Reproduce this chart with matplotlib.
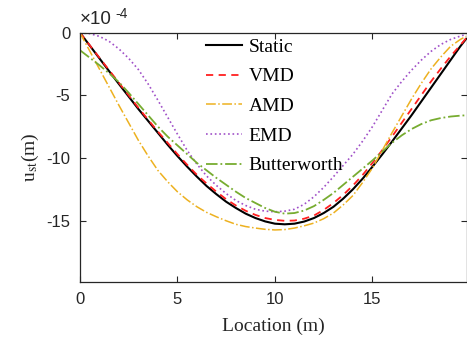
import matplotlib
matplotlib.use("Agg")
import matplotlib.pyplot as plt

plt.rcParams['axes.unicode_minus'] = False
plt.rcParams['mathtext.fontset'] = 'stix'

# Location (m)
location = [0, 0.5, 1, 1.5, 2, 2.5, 3, 3.5, 4, 4.5, 5, 5.5, 6, 6.5, 7, 7.5, 8, 8.5, 9, 9.5,
            10, 10.5, 11, 11.5, 12, 12.5, 13, 13.5, 14, 14.5, 15, 15.5, 16, 16.5, 17, 17.5,
            18, 18.5, 19, 19.5, 19.8]

# Displacement values in units of 1e-4 m
static = [0, -1.02, -2.05, -3.08, -4.1, -5.1, -6.1, -7.05, -8.0, -8.95, -9.85, -10.7, -11.5,
          -12.25, -12.9, -13.5, -14.0, -14.45, -14.8, -15.07, -15.25, -15.3, -15.25, -15.08,
          -14.8, -14.4, -13.9, -13.25, -12.5, -11.65, -10.7, -9.72, -8.7, -7.65, -6.6, -5.5,
          -4.4, -3.3, -2.2, -1.1, -0.5]
vmd = [0, -1.0, -2.0, -3.0, -4.0, -5.0, -6.0, -6.95, -7.9, -8.8, -9.7, -10.55, -11.35,
       -12.05, -12.7, -13.3, -13.8, -14.22, -14.55, -14.8, -14.95, -15.02, -15.0, -14.85,
       -14.6, -14.15, -13.6, -12.95, -12.2, -11.35, -10.4, -9.38, -8.3, -7.2, -6.1, -5.0,
       -3.9, -2.88, -1.9, -1.0, -0.45]
amd = [0, -1.45, -2.9, -4.35, -5.8, -7.2, -8.6, -9.85, -11.0, -11.9, -12.7, -13.35, -13.9,
       -14.35, -14.7, -15.02, -15.3, -15.48, -15.6, -15.7, -15.75, -15.72, -15.6, -15.42,
       -15.2, -14.85, -14.4, -13.75, -13.0, -11.95, -10.8, -9.4, -8.0, -6.65, -5.3, -4.05,
       -2.9, -1.95, -1.1, -0.55, -0.3]
emd = [0, -0.08, -0.3, -0.7, -1.3, -2.05, -2.95, -4.1, -5.4, -6.75, -8.1, -9.4, -10.5,
       -11.45, -12.2, -12.85, -13.4, -13.8, -14.1, -14.25, -14.3, -14.25, -14.1, -13.7,
       -13.1, -12.35, -11.5, -10.6, -9.7, -8.65, -7.5, -6.2, -4.9, -3.9, -3.0, -2.2,
       -1.5, -0.95, -0.55, -0.28, -0.15]
butterworth = [-1.4, -2.0, -2.6, -3.25, -3.95, -4.8, -5.7, -6.6, -7.5, -8.3, -9.0, -9.7, -10.4,
               -11.0, -11.6, -12.15, -12.7, -13.2, -13.6, -14.0, -14.3, -14.45, -14.4, -14.2,
               -13.85, -13.35, -12.8, -12.15, -11.5, -10.85, -10.2, -9.5, -8.8, -8.2, -7.7, -7.3,
               -7.0, -6.82, -6.7, -6.63, -6.6]

series = [
    ("Static", static, dict(color='black', linestyle='-', linewidth=1.5)),
    ("VMD", vmd, dict(color='#ff2020', linestyle=(0, (4, 3)), linewidth=1.3)),
    ("AMD", amd, dict(color='#edb120', linestyle='-.', linewidth=1.1)),
    ("EMD", emd, dict(color='#a050c8', linestyle=':', linewidth=1.2)),
    ("Butterworth", butterworth, dict(color='#77ac30', linestyle='-.', linewidth=1.3)),
]

fig = plt.figure(figsize=(4.67, 3.43), dpi=100)
ax = fig.add_axes([0.171, 0.178, 0.828, 0.727])

for name, vals, style in series:
    ax.plot(location, vals, label=name, **style)

ax.set_xlim(0, 19.82)
ax.set_ylim(-19.9, 0)
ax.set_xticks([0, 5, 10, 15])
ax.set_yticks([0, -5, -10, -15])

ax.tick_params(direction='in', top=True, right=True, length=4, width=0.8,
               labelsize=12, colors='#262626', pad=7)
for lbl in ax.get_xticklabels() + ax.get_yticklabels():
    lbl.set_family('Liberation Sans')
for s in ax.spines.values():
    s.set_color('#262626')
    s.set_linewidth(0.9)

# exponent label (values are in units of 1e-4 m)
ax.annotate('\u00d710', xy=(0, 1), xycoords='axes fraction', xytext=(0, 3),
            textcoords='offset points', ha='left', va='bottom',
            family='Liberation Sans', fontsize=13.5, color='#262626')
ax.annotate('-4', xy=(0, 1), xycoords='axes fraction', xytext=(25.5, 8.5),
            textcoords='offset points', ha='left', va='bottom',
            family='Liberation Sans', fontsize=10, color='#262626')

ax.set_xlabel('Location (m)', family='Liberation Serif', fontsize=14, color='#262626',
              labelpad=8)
ax.set_ylabel(r'u$_{\mathrm{st}}$(m)', family='Liberation Serif', fontsize=14, color='#262626')

leg = ax.legend(loc='upper left', bbox_to_anchor=(0.28, 1.048), frameon=False,
                prop={'family': 'Liberation Serif', 'size': 14},
                handlelength=1.85, handletextpad=0.35, labelspacing=0.62)

fig.savefig('out.png', dpi=100)
